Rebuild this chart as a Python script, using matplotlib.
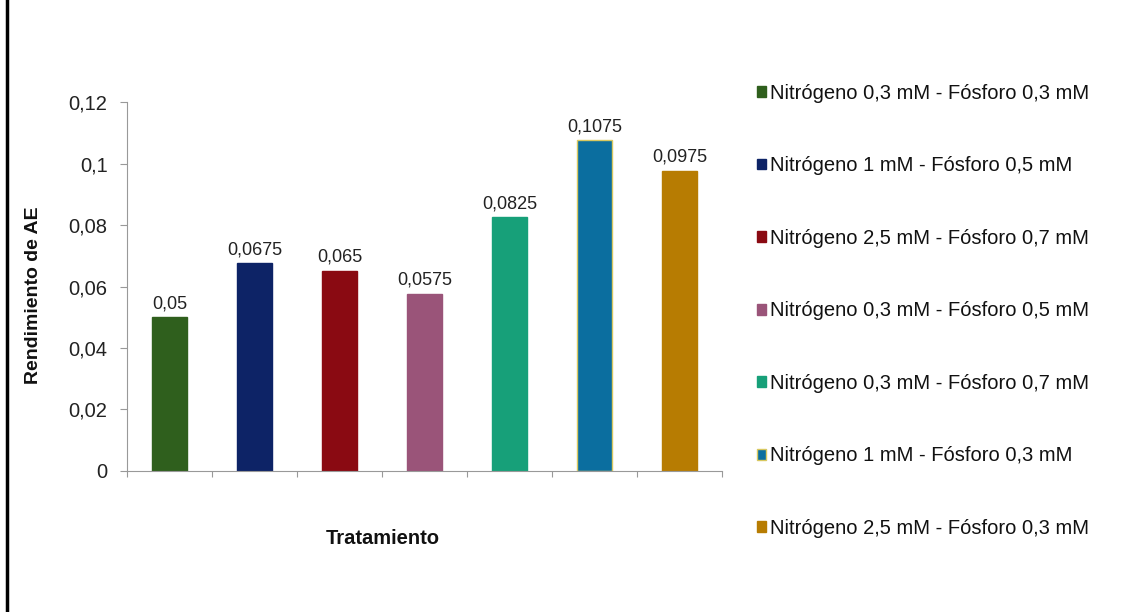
import numpy as np
import matplotlib.pyplot as plt
from matplotlib.lines import Line2D

plt.rcParams['font.family'] = ['Liberation Sans', 'DejaVu Sans']

tratamientos = ["Nitrógeno 0,3 mM - Fósforo 0,3 mM",
                "Nitrógeno 1 mM - Fósforo 0,5 mM",
                "Nitrógeno 2,5 mM - Fósforo 0,7 mM",
                "Nitrógeno 0,3 mM - Fósforo 0,5 mM",
                "Nitrógeno 0,3 mM - Fósforo 0,7 mM",
                "Nitrógeno 1 mM - Fósforo 0,3 mM",
                "Nitrógeno 2,5 mM - Fósforo 0,3 mM"]
rendimiento = [0.05, 0.0675, 0.065, 0.0575, 0.0825, 0.1075, 0.0975]
colores = ['#2f5f1d', '#0d2366', '#8a0a12', '#9a5479', '#17a079', '#0b6e9f', '#b77c02']
bordes = ['#2f5f1d', '#0d2366', '#8a0a12', '#9a5479', '#17a079', '#d8c860', '#b77c02']
yticks = [0, 0.02, 0.04, 0.06, 0.08, 0.1, 0.12]

fig = plt.figure(figsize=(11.33, 6.12), dpi=100)
ax = fig.add_axes([0.1121, 0.2304, 0.5252, 0.6029])

x = np.arange(len(rendimiento))
bars = ax.bar(x, rendimiento, width=0.41, color=colores, edgecolor=bordes, linewidth=1)

for xi, v in zip(x, rendimiento):
    ax.text(xi, v + 0.0017, str(v).replace('.', ','), ha='center', va='bottom',
            fontsize=13, color='#222222')

ax.set_xlim(-0.5, len(x) - 0.5)
ax.set_ylim(0, 0.12)
ax.set_yticks(yticks)
ax.set_yticklabels([('%g' % t).replace('.', ',') for t in yticks], fontsize=14.5)
ax.set_xticks(np.arange(len(x) + 1) - 0.5)
ax.set_xticklabels([])
ax.tick_params(axis='x', direction='out', length=4, color='#999999')
ax.tick_params(axis='y', direction='out', length=5, color='#999999', pad=9, labelcolor='#222222')
for s in ['top', 'right']:
    ax.spines[s].set_visible(False)
for s in ['left', 'bottom']:
    ax.spines[s].set_color('#999999')

# títulos de los ejes
fig.text(34 / 1133, 1 - 295 / 612, 'Rendimiento de AE', rotation=90, ha='center', va='center',
         fontsize=14, fontweight='bold', color='#111111')
fig.text(383 / 1133, 1 - 538 / 612, 'Tratamiento', ha='center', va='center',
         fontsize=14.5, fontweight='bold', color='#111111')

# leyenda a la derecha
handles = [plt.Rectangle((0, 0), 1, 1, facecolor=c, edgecolor=b) for c, b in zip(colores, bordes)]
fig.legend(handles, tratamientos, loc='upper left', bbox_to_anchor=(0.652, 0.893),
           frameon=False, fontsize=14.5, handlelength=0.45, handleheight=0.45,
           handletextpad=0.2, labelspacing=2.66, labelcolor='#111111')

# línea vertical negra en el borde izquierdo
fig.add_artist(Line2D([0.0065, 0.0065], [0, 1], color='black', linewidth=2.5,
                      transform=fig.transFigure))

fig.savefig('out.png', dpi=100, facecolor='white')
